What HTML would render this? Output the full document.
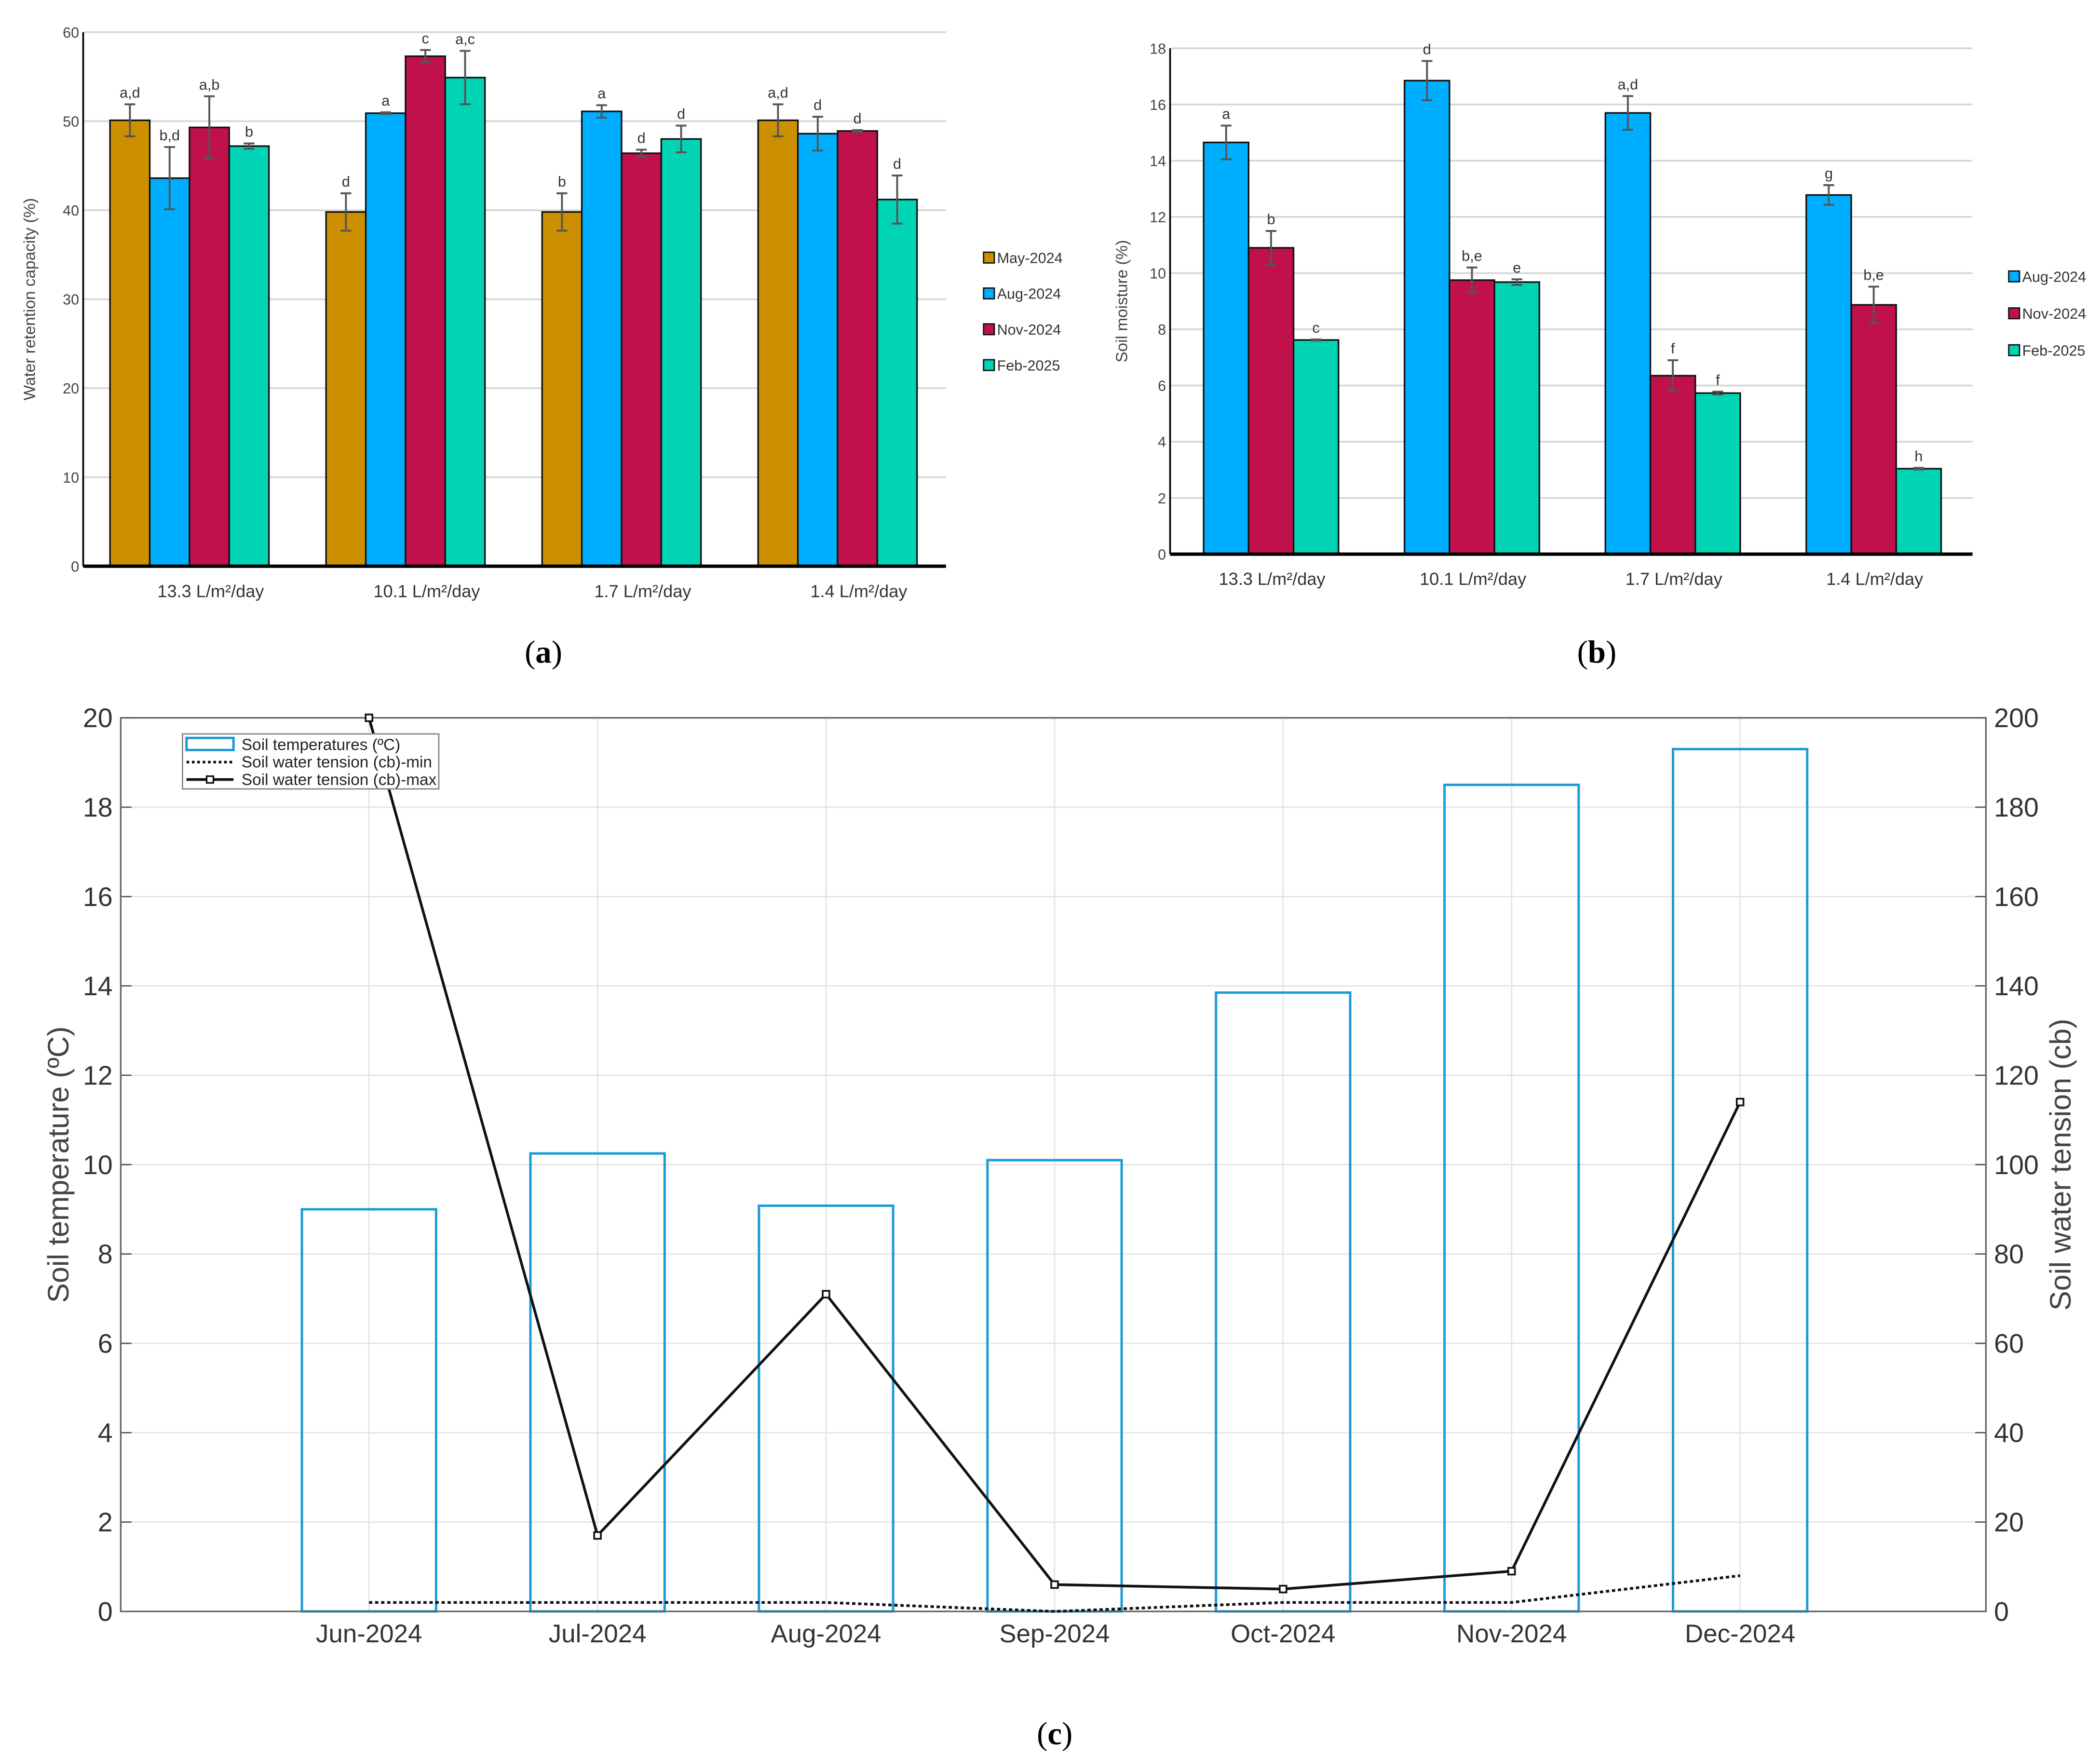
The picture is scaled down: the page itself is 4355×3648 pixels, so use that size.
<!DOCTYPE html>
<html><head><meta charset="utf-8"><style>
html,body{margin:0;padding:0;background:#fff}
svg{display:block}
text{font-family:"Liberation Sans",sans-serif}
</style></head><body>
<svg id="root" width="4355" height="3648" viewBox="0 0 1565 1311" preserveAspectRatio="none" xmlns="http://www.w3.org/2000/svg">
<g id="pa"></g>
<g id="pb"></g>
<g id="pc"></g>
<text x="405" y="494" font-size="24" text-anchor="middle" style="font-family:'Liberation Serif',serif">(<tspan font-weight="bold">a</tspan>)</text>
<text x="1190" y="494" font-size="24" text-anchor="middle" style="font-family:'Liberation Serif',serif">(<tspan font-weight="bold">b</tspan>)</text>
<text x="786" y="1300" font-size="24" text-anchor="middle" style="font-family:'Liberation Serif',serif">(<tspan font-weight="bold">c</tspan>)</text>
</svg>
<script>
// ---- Panel A data ----
const aCategories = ["13.3 L/m²/day","10.1 L/m²/day","1.7 L/m²/day","1.4 L/m²/day"];
const aSeries = ["May-2024","Aug-2024","Nov-2024","Feb-2025"];
const aMay = [50.1, 39.8, 39.8, 50.1];
const aAug = [43.6, 50.9, 51.1, 48.6];
const aNov = [49.3, 57.3, 46.4, 48.9];
const aFeb = [47.2, 54.9, 48.0, 41.2];
const aErrMay = [1.8, 2.1, 2.1, 1.8];
const aErrAug = [3.5, 0.1, 0.7, 1.9];
const aErrNov = [3.5, 0.7, 0.4, 0.1];
const aErrFeb = [0.3, 3.0, 1.5, 2.7];
const aLetMay = ["a,d","d","b","a,d"];
const aLetAug = ["b,d","a","a","d"];
const aLetNov = ["a,b","c","d","d"];
const aLetFeb = ["b","a,c","d","d"];
const aTicks = [0,10,20,30,40,50,60];
// ---- Panel B data ----
const bCategories = ["13.3 L/m²/day","10.1 L/m²/day","1.7 L/m²/day","1.4 L/m²/day"];
const bSeries = ["Aug-2024","Nov-2024","Feb-2025"];
const bAug = [14.65, 16.85, 15.7, 12.78];
const bNov = [10.9, 9.75, 6.35, 8.87];
const bFeb = [7.62, 9.68, 5.73, 3.04];
const bErrAug = [0.6, 0.7, 0.6, 0.35];
const bErrNov = [0.6, 0.45, 0.55, 0.65];
const bErrFeb = [0.02, 0.1, 0.05, 0.03];
const bLetAug = ["a","d","a,d","g"];
const bLetNov = ["b","b,e","f","b,e"];
const bLetFeb = ["c","e","f","h"];
const bTicks = [0,2,4,6,8,10,12,14,16,18];
// ---- Panel C data ----
const cMonths = ["Jun-2024","Jul-2024","Aug-2024","Sep-2024","Oct-2024","Nov-2024","Dec-2024"];
const cTemp = [9.0, 10.25, 9.08, 10.1, 13.85, 18.5, 19.3];
const cTensionMin = [2, 2, 2, 0, 2, 2, 8];
const cTensionMax = [200, 17, 71, 6, 5, 9, 114];
const cLeftTicks = [0,2,4,6,8,10,12,14,16,18,20];
const cRightTicks = [0,20,40,60,80,100,120,140,160,180,200];

const NS="http://www.w3.org/2000/svg";
function mk(parent,tag,attrs,text){const e=document.createElementNS(NS,tag);for(const k in attrs)e.setAttribute(k,attrs[k]);if(text!==undefined)e.textContent=text;parent.appendChild(e);return e;}

function barPanel(g,cfg){
  const y=v=>cfg.y0-(v-cfg.tmin)/(cfg.tmax-cfg.tmin)*(cfg.y0-cfg.ytop);
  cfg.ticks.forEach(t=>{
    const gl=mk(g,'line',{x1:cfg.x0,x2:cfg.xr,y1:y(t),y2:y(t),stroke:'#d6d6d6','stroke-width':1.3});
    
    
    const tl=mk(g,'text',{x:cfg.x0-3,y:y(t)+4,'font-size':11,'text-anchor':'end',fill:'#444'},String(t));
    
    
  });
  const ya=mk(g,'line',{x1:cfg.x0,x2:cfg.x0,y1:cfg.ytop,y2:cfg.y0,stroke:'#000','stroke-width':1.3});
  
  
  cfg.cats.forEach((c,i)=>{
    const gx=cfg.g0+i*cfg.gs;
    cfg.vals.forEach((arr,s)=>{
      const bx=gx+s*cfg.bw, v=arr[i];
      const r=mk(g,'rect',{x:bx,y:y(v),width:cfg.bw,height:cfg.y0-y(v),fill:cfg.cols[s],stroke:'#111','stroke-width':1.2});
      
      
      const e=cfg.errs[s][i], cx=bx+cfg.bw/2;
      const eb=mk(g,'path',{d:`M${cx} ${y(v+e)}V${y(v-e)}M${cx-4} ${y(v+e)}H${cx+4}M${cx-4} ${y(v-e)}H${cx+4}`,stroke:'#555','stroke-width':1.4,fill:'none'});
      
      
      const lt=mk(g,'text',{x:cx,y:y(v+e)-5,'font-size':11,'text-anchor':'middle',fill:'#333'},cfg.lets[s][i]);
      
      
    });
    const cl=mk(g,'text',{x:gx+cfg.labOff,y:cfg.y0+23,'font-size':13,'text-anchor':'middle',fill:'#333'},c);
    
    
  });
  const xa=mk(g,'line',{x1:cfg.x0,x2:cfg.xr,y1:cfg.y0,y2:cfg.y0,stroke:'#000','stroke-width':2.5});
  
  
  const yt=mk(g,'text',{transform:`translate(${cfg.ylx},${(cfg.ytop+cfg.y0)/2}) rotate(-90)`,'font-size':12,'text-anchor':'middle',fill:'#444'},cfg.ytitle);
  
  
  cfg.series.forEach((s,k)=>{
    const ly=cfg.legY+k*cfg.legDy;
    const sq=mk(g,'rect',{x:cfg.legX,y:ly-4,width:8,height:8,fill:cfg.cols[k],stroke:'#111','stroke-width':1});
    
    
    const t=mk(g,'text',{x:cfg.legX+10,y:ly+4,'font-size':11,fill:'#333'},s);
    
    
  });
}
barPanel(document.getElementById('pa'),{x0:62,xr:705,y0:422,ytop:24,tmin:0,tmax:60,ticks:aTicks,cats:aCategories,series:aSeries,
  vals:[aMay,aAug,aNov,aFeb],errs:[aErrMay,aErrAug,aErrNov,aErrFeb],lets:[aLetMay,aLetAug,aLetNov,aLetFeb],
  cols:['#cc8f00','#00aeff','#c0114d','#00d4b4'],g0:82,gs:161,bw:29.6,labOff:75,ylx:26,ytitle:'Water retention capacity (%)',legX:733,legY:192,legDy:26.7});
barPanel(document.getElementById('pb'),{x0:872,xr:1470,y0:413,ytop:36,tmin:0,tmax:18,ticks:bTicks,cats:bCategories,series:bSeries,
  vals:[bAug,bNov,bFeb],errs:[bErrAug,bErrNov,bErrFeb],lets:[bLetAug,bLetNov,bLetFeb],
  cols:['#00aeff','#c0114d','#00d4b4'],g0:897,gs:149.7,bw:33.5,labOff:51,ylx:840,ytitle:'Soil moisture (%)',legX:1497,legY:206,legDy:27.5});

// ---- Panel C ----
(function(){
  const g=document.getElementById('pc');
  const L=90,R=1480,T=535,B=1201;
  const yL=v=>B-v/20*(B-T), yR=v=>B-v/200*(B-T);
  const xm=i=>275+i*170.3;
  const bg=mk(g,'rect',{x:L,y:T,width:R-L,height:B-T,fill:'#fff'});
  
  
  cLeftTicks.forEach((t,k)=>{
    const gl=mk(g,'line',{x1:L,x2:R,y1:yL(t),y2:yL(t),stroke:'#e4e4e4','stroke-width':1});
    
    
    const tl=mk(g,'text',{x:L-6,y:yL(t)+7,'font-size':20,'text-anchor':'end',fill:'#333'},String(t));
    
    
    const tk=mk(g,'line',{x1:L,x2:L+8,y1:yL(t),y2:yL(t),stroke:'#555','stroke-width':1});
    
    
  });
  cRightTicks.forEach(t=>{
    const tl=mk(g,'text',{x:R+6,y:yR(t)+7,'font-size':20,fill:'#333'},String(t));
    
    
    const tk=mk(g,'line',{x1:R-8,x2:R,y1:yR(t),y2:yR(t),stroke:'#555','stroke-width':1});
    
    
  });
  cMonths.forEach((m,i)=>{
    const gl=mk(g,'line',{x1:xm(i),x2:xm(i),y1:T,y2:B,stroke:'#e4e4e4','stroke-width':1});
    
    
    const tl=mk(g,'text',{x:xm(i),y:B+23,'font-size':19,'text-anchor':'middle',fill:'#333'},m);
    
    
  });
  cTemp.forEach((v,i)=>{
    const r=mk(g,'rect',{x:xm(i)-50,y:yL(v),width:100,height:B-yL(v),fill:'none',stroke:'#1a9bd7','stroke-width':1.8});
    
    
  });
  const frame=mk(g,'rect',{x:L,y:T,width:R-L,height:B-T,fill:'none',stroke:'#666','stroke-width':1.2});
  
  
  const minL=mk(g,'polyline',{points:cTensionMin.map((v,i)=>xm(i)+','+yR(v)).join(' '),fill:'none',stroke:'#111','stroke-width':2,'stroke-dasharray':'2.5,2'});
  
  
  const maxL=mk(g,'polyline',{points:cTensionMax.map((v,i)=>xm(i)+','+yR(v)).join(' '),fill:'none',stroke:'#111','stroke-width':2});
  
  
  cTensionMax.forEach((v,i)=>{
    const p=mk(g,'rect',{x:xm(i)-2.5,y:yR(v)-2.5,width:5,height:5,fill:'#fff',stroke:'#111','stroke-width':1.3});
    
    
  });
  const yt=mk(g,'text',{transform:`translate(51,${(T+B)/2}) rotate(-90)`,'font-size':22,'text-anchor':'middle',fill:'#444'},'Soil temperature (ºC)');
  
  
  const yt2=mk(g,'text',{transform:`translate(1543,${(T+B)/2}) rotate(-90)`,'font-size':22,'text-anchor':'middle',fill:'#444'},'Soil water tension (cb)');
  
  
  // legend
  const lg=mk(g,'g',{});
  
  
  mk(lg,'rect',{x:136,y:547,width:191,height:41,fill:'#fff',stroke:'#888','stroke-width':1});
  mk(lg,'rect',{x:139,y:550,width:35,height:9,fill:'none',stroke:'#1a9bd7','stroke-width':1.8});
  mk(lg,'line',{x1:139,x2:174,y1:568,y2:568,stroke:'#111','stroke-width':2,'stroke-dasharray':'2,2'});
  mk(lg,'line',{x1:139,x2:174,y1:581,y2:581,stroke:'#111','stroke-width':2});
  mk(lg,'rect',{x:154,y:578.5,width:5,height:5,fill:'#fff',stroke:'#111','stroke-width':1.2});
  const names=['Soil temperatures (ºC)','Soil water tension (cb)-min','Soil water tension (cb)-max'];
  names.forEach((n,k)=>{
    const t=mk(lg,'text',{x:180,y:559+k*13,'font-size':12,fill:'#222'},n);
    
    
  });
})();
</script>
</body></html>
